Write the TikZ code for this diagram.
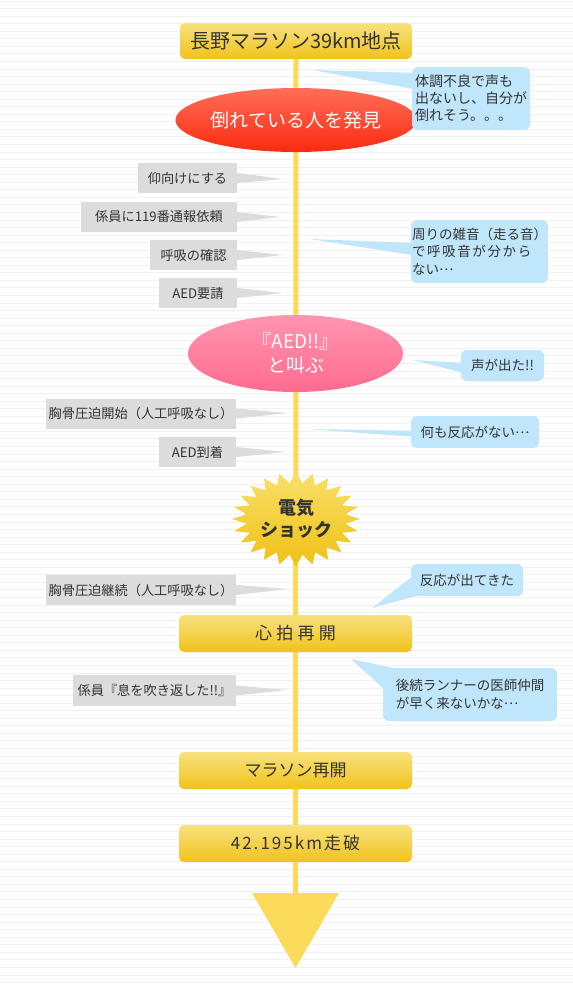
\documentclass[tikz,border=0pt]{standalone}
\usepackage{fontspec}
\setmainfont{Noto Sans CJK JP}
\usetikzlibrary{shapes.geometric}
\definecolor{stripe}{HTML}{F1F1F1}
\definecolor{lineY}{HTML}{FDD955}
\definecolor{arrowY}{HTML}{FCDB5A}
\definecolor{boxTop}{HTML}{F8E27E}
\definecolor{boxBot}{HTML}{F1C21C}
\definecolor{redTop}{HTML}{FF6E58}
\definecolor{redBot}{HTML}{FB2A10}
\definecolor{pinkTop}{HTML}{FF95AF}
\definecolor{pinkBot}{HTML}{FF6B90}
\definecolor{burstTop}{HTML}{F9E06A}
\definecolor{burstBot}{HTML}{F0C014}
\definecolor{bubble}{HTML}{BFE6FB}
\definecolor{labelG}{HTML}{DCDCDC}
\definecolor{txt}{HTML}{333333}
\newcommand\jdots{\raisebox{0.3em}{…}}
\begin{document}
\begin{tikzpicture}[x=1pt,y=-1pt,
  ybox/.style={rounded corners=5pt, top color=boxTop, bottom color=boxBot, minimum width=233pt, minimum height=37pt, inner sep=0pt, text=txt, font=\fontsize{17}{20}\selectfont},
  lbl/.style={fill=labelG, minimum height=30pt, inner sep=0pt, text=txt, font=\fontsize{13.2}{16}\selectfont},
  bub/.style={fill=bubble, rounded corners=6pt, inner sep=0pt, text=txt, font=\fontsize{13.5}{17.5}\selectfont, align=left},
  wedgeG/.style={fill=labelG},
  wedgeB/.style={fill=bubble},
  oval/.style={ellipse, inner sep=0pt, text=white, align=center, font=\fontsize{19}{24}\selectfont},
]
\useasboundingbox (0,0) rectangle (573,986);
\fill[white] (0,0) rectangle (573,986);
\foreach \yy in {1,8.55,...,986} \draw[stripe, line width=0.9pt] (0,\yy) -- (573,\yy);

% nodes
\node[ybox, minimum width=232pt, minimum height=36pt, font=\fontsize{20}{24}\selectfont] (start) at (296,41) {長野マラソン39km地点};
\coordinate (arrowtop) at (295.5,893);
\coordinate (arrowL) at (252,893);
\coordinate (arrowR) at (339,893);
\coordinate (arrowtip) at (295.5,968);

% main line
\draw[lineY, line width=5pt] (start.south) -- (arrowtop);
\fill[arrowY] (arrowL) -- (arrowR) -- (arrowtip) -- cycle;

\node[ybox] (beat) at (295.5,633.5) {\addfontfeature{LetterSpace=25}心拍再開};
\node[ybox] (resume) at (295.5,770.5) {マラソン再開};
\node[ybox] (finish) at (295.5,843.5) {\addfontfeature{LetterSpace=12}42.195km走破};

% ellipses
\node[oval, top color=redTop, bottom color=redBot, minimum width=212pt, minimum height=64pt] (found) at (296,120) {倒れている人を発見};
\node[oval, top color=pinkTop, bottom color=pinkBot, minimum width=215pt, minimum height=77pt] (shout) at (295.5,353.5) {『AED!!』\\と叫ぶ};

% starburst
\begin{scope}[shift={(296,519)}]
\path[top color=burstTop, bottom color=burstBot] (0:64 and 47)
  \foreach \i in {0,...,23} { -- ({\i*15+7.5}:50 and 36) -- ({\i*15+15}:64 and 47) } -- cycle;
\end{scope}
\node[text=txt, align=center, font=\bfseries\fontsize{18}{22}\selectfont] (shock) at (296,519) {電気\\ショック};

% gray labels
\node[lbl, minimum width=99pt] (g1) at (187.5,178) {仰向けにする};
\node[lbl, minimum width=156pt] (g2) at (159,217) {係員に119番通報依頼};
\node[lbl, minimum width=87pt] (g3) at (193.5,255) {呼吸の確認};
\node[lbl, minimum width=78pt] (g4) at (198,293) {AED要請};
\node[lbl, minimum width=190pt] (g5) at (141,413.5) {胸骨圧迫開始（人工呼吸なし）};
\node[lbl, minimum width=77pt] (g6) at (197.5,452) {AED到着};
\node[lbl, minimum width=190pt] (g7) at (141,590) {胸骨圧迫継続（人工呼吸なし）};
\node[lbl, minimum width=163pt, minimum height=31pt] (g8) at (154.5,690.5) {係員『息を吹き返した!!』};

\coordinate (t1) at (283,179);
\coordinate (t2) at (280,217);
\coordinate (t3) at (283,255);
\coordinate (t4) at (283,293);
\coordinate (t5) at (288,413);
\coordinate (t6) at (286,452);
\coordinate (t7) at (288,589);
\coordinate (t8) at (287,690);
\foreach \n in {1,...,8}
  \fill[wedgeG] ([yshift=5pt]g\n.east) -- (t\n) -- ([yshift=-5pt]g\n.east) -- cycle;

% bubbles
\node[bub, minimum width=118pt, minimum height=63pt, font=\fontsize{14}{17}\selectfont] (b1) at (471,98.5) {体調不良で声も\\出ないし、自分が\\倒れそう。。。};
\node[bub, minimum width=137pt, minimum height=63pt] (b2) at (479.5,251.5) {周りの雑音（走る音）\\{\addfontfeature{LetterSpace=12}で呼吸音が分から}\\ない\jdots};
\node[bub, minimum width=83pt, minimum height=31pt] (b3) at (502.5,365.5) {声が出た!!};
\node[bub, minimum width=128pt, minimum height=32pt] (b4) at (475,432) {何も反応がない\jdots};
\node[bub, minimum width=112pt, minimum height=32pt] (b5) at (467,580) {反応が出てきた};
\node[bub, minimum width=174pt, minimum height=53pt] (b6) at (470,694.5) {後続ランナーの医師仲間\\が早く来ないかな\jdots};

\coordinate (s1) at (313,70);
\coordinate (s2) at (310,239);
\coordinate (s3) at (413,360);
\coordinate (s4) at (309,429);
\coordinate (s5) at (372,608);
\coordinate (s6) at (351,659);
\fill[wedgeB] (s1) -- ([yshift=-22pt]b1.north west) -- ([yshift=-6pt]b1.north west) -- cycle;
\fill[wedgeB] (s2) -- ([yshift=-35pt]b2.north west) -- ([yshift=-23pt]b2.north west) -- cycle;
\fill[wedgeB] (s3) -- ([xshift=2pt,yshift=-23pt]b3.north west) -- ([xshift=2pt,yshift=-13pt]b3.north west) -- cycle;
\fill[wedgeB] (s4) -- ([xshift=2pt,yshift=-21pt]b4.north west) -- ([xshift=2pt,yshift=-15pt]b4.north west) -- cycle;
\fill[wedgeB] (s5) -- ([xshift=1pt,yshift=-13pt]b5.north west) -- ([xshift=8pt,yshift=1pt]b5.south west) -- cycle;
\fill[wedgeB] (s6) -- ([xshift=2pt,yshift=-22pt]b6.north west) -- ([xshift=14pt,yshift=-1pt]b6.north west) -- cycle;
\end{tikzpicture}
\end{document}
